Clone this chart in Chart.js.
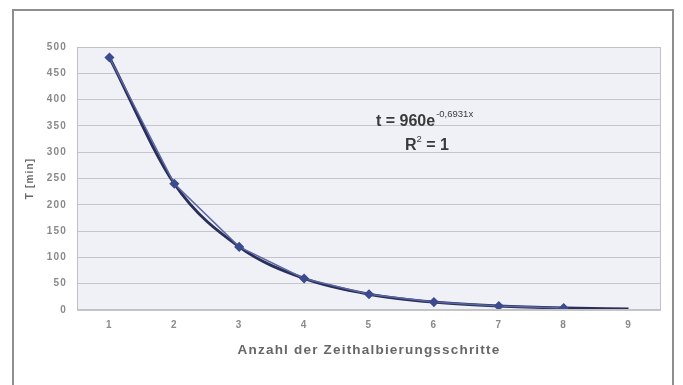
<!DOCTYPE html>
<html>
<head>
<meta charset="utf-8">
<script src="https://cdn.jsdelivr.net/npm/chart.js@4/dist/chart.umd.min.js"></script>
<style>
  html, body { margin: 0; padding: 0; background: #ffffff; }
  canvas { display: block; }
</style>
</head>
<body>
<canvas id="c" width="683" height="385"></canvas>
<script>
// Halving steps and measured time per step
const steps = ['1', '2', '3', '4', '5', '6', '7', '8', '9'];
const measured = [480, 240, 120, 60, 30, 15, 7.5, 3.75];
// Exponential fit t = 960 e^(-0.6931 x), evaluated at each step
const trend = [480, 240, 120, 60, 30, 15, 7.5, 3.75, 1.875];
const yTicks = [0, 50, 100, 150, 200, 250, 300, 350, 400, 450, 500];

const eqMain = 't = 960e';
const eqExp = '-0,6931x';
const eqR = 'R';
const eqRsup = '2';
const eqRrest = ' = 1';

const FONT = '"Liberation Sans", Arial, sans-serif';

// Outer frame and plot background
const framePlugin = {
  id: 'frame',
  beforeDraw(chart) {
    const { ctx, chartArea: a } = chart;
    ctx.save();
    ctx.fillStyle = '#ffffff';
    ctx.fillRect(0, 0, chart.width, chart.height);
    ctx.strokeStyle = '#8e8e8e';
    ctx.lineWidth = 2;
    ctx.strokeRect(13, 10, 660, 400);
    ctx.fillStyle = '#eff1f7';
    ctx.fillRect(a.left, a.top, a.right - a.left, a.bottom - a.top);
    ctx.restore();
    // spaced-out axis lettering
    ctx.letterSpacing = '1.2px';
  },
  afterDatasetsDraw(chart) {
    const { ctx, chartArea: a } = chart;
    ctx.save();
    ctx.strokeStyle = '#c2c2c6';
    ctx.lineWidth = 1;
    ctx.strokeRect(a.left + 0.5, a.top + 0.5, a.right - a.left - 1, a.bottom - a.top - 1);
    ctx.restore();
  }
};

// Fit equation and coefficient of determination
const equationPlugin = {
  id: 'equation',
  afterDraw(chart) {
    const { ctx } = chart;
    ctx.save();
    ctx.letterSpacing = '0px';
    ctx.fillStyle = '#3a3a3a';
    ctx.textBaseline = 'alphabetic';
    ctx.textAlign = 'left';
    const mainFont = 'bold 16px ' + FONT;
    const supFont = '9.5px ' + FONT;
    ctx.font = mainFont;
    let x = 376, y = 126;
    ctx.fillText(eqMain, x, y);
    x += ctx.measureText(eqMain).width + 1;
    ctx.font = supFont;
    ctx.fillText(eqExp, x, y - 9);

    ctx.font = mainFont;
    let x2 = 405, y2 = 150;
    ctx.fillText(eqR, x2, y2);
    x2 += ctx.measureText(eqR).width;
    ctx.font = supFont;
    ctx.fillText(eqRsup, x2, y2 - 8);
    x2 += ctx.measureText(eqRsup).width;
    ctx.font = mainFont;
    ctx.fillText(eqRrest, x2, y2);
    ctx.restore();
  }
};

new Chart(document.getElementById('c'), {
  type: 'line',
  data: {
    labels: steps,
    datasets: [
      {
        label: 'Messwerte',
        data: measured,
        borderColor: '#5a67a3',
        borderWidth: 1.5,
        pointStyle: 'rectRot',
        pointRadius: 4,
        pointBackgroundColor: '#3c4b8e',
        pointBorderColor: '#3c4b8e',
        tension: 0,
        order: 1
      },
      {
        label: 'Exponentiell',
        data: trend,
        borderColor: '#2a2f5a',
        borderWidth: 3,
        pointRadius: 0,
        cubicInterpolationMode: 'monotone',
        order: 2
      }
    ]
  },
  options: {
    responsive: false,
    animation: false,
    layout: { padding: { left: 0, top: 47, right: 22, bottom: 0 } },
    plugins: { legend: { display: false }, tooltip: { enabled: false } },
    scales: {
      x: {
        type: 'category',
        offset: true,
        grid: { display: false, drawTicks: false },
        border: { display: false },
        ticks: {
          padding: 9,
          color: '#8a8a8a',
          font: { family: FONT, size: 10, weight: 'bold' }
        },
        title: {
          display: true,
          text: 'Anzahl der Zeithalbierungsschritte',
          color: '#666666',
          font: { family: FONT, size: 13.5, weight: 'bold' },
          padding: { top: 0, bottom: 27 }
        },
        afterFit(scale) { scale.height = 75; }
      },
      y: {
        min: 0,
        max: 500,
        afterBuildTicks(scale) { scale.ticks = yTicks.map(v => ({ value: v })); },
        grid: { color: '#c6c6ca', lineWidth: 1, drawTicks: false },
        border: { display: false },
        ticks: {
          padding: 10,
          color: '#8a8a8a',
          font: { family: FONT, size: 10, weight: 'bold' }
        },
        title: {
          display: true,
          text: 'T [min]',
          color: '#666666',
          font: { family: FONT, size: 10, weight: 'bold' },
          padding: { top: 24, bottom: 0 }
        },
        afterFit(scale) { scale.width = 77; }
      }
    }
  },
  plugins: [framePlugin, equationPlugin]
});
</script>
</body>
</html>
